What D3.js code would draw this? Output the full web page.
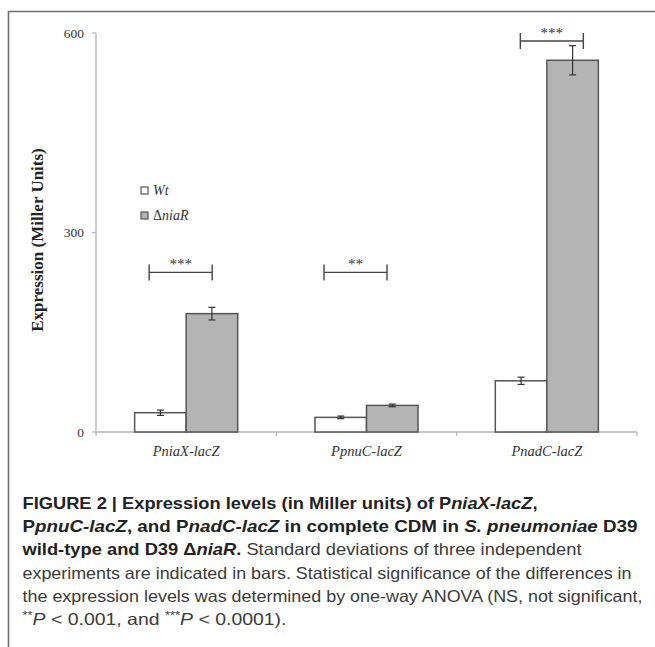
<!DOCTYPE html>
<html><head><meta charset="utf-8">
<script src="https://cdn.jsdelivr.net/npm/d3@7"></script>
<style>body{margin:0;background:#fff}svg{display:block}</style>
</head><body>
<svg id="c" width="655" height="647"></svg>
<script>
const categories = ["PniaX-lacZ", "PpnuC-lacZ", "PnadC-lacZ"];
const seriesNames = ["Wt", "ΔniaR"];
const wtValues = [29, 22, 77];
const wtErrors = [4, 2, 5.5];
const niaRValues = [178, 40, 559];
const niaRErrors = [9.5, 2, 22];
const yTicks = [0, 300, 600];
const sigLabels = ["***", "**", "***"];
const sigLevels = [240, 240, 588];
const sigShift = [-5.5, -11, 5];

const svg = d3.select("#c");
const y = d3.scaleLinear().domain([0, 600]).range([432, 33]);
const x = d3.scaleBand().domain(categories).range([96, 637]).padding(0);
const x1 = d3.scaleBand().domain(seriesNames).range([0, x.bandwidth()]).paddingInner(0).paddingOuter(0.75);

// frame
svg.append("path").attr("d", "M8.5,647V11.5H655").attr("fill", "none").attr("stroke", "#707070").attr("stroke-width", 1.6);

// axes
const axisCol = "#b5b5b5";
svg.append("line").attr("x1", 96).attr("x2", 96).attr("y1", y(600)).attr("y2", y(0)).attr("stroke", axisCol).attr("stroke-width", 1.4);
svg.append("line").attr("x1", 96).attr("x2", 637).attr("y1", y(0)).attr("y2", y(0)).attr("stroke", axisCol).attr("stroke-width", 1.4);
svg.selectAll(".yt").data(yTicks).enter().append("line")
  .attr("x1", 92).attr("x2", 96).attr("y1", d => y(d)).attr("y2", d => y(d)).attr("stroke", axisCol).attr("stroke-width", 1.2);
svg.selectAll(".ytl").data(yTicks).enter().append("text")
  .attr("x", 84).attr("y", d => y(d) + 4.5).attr("text-anchor", "end")
  .attr("font-family", "Liberation Serif, serif").attr("font-size", 13.5).attr("fill", "#333").text(d => d);
const xb = categories.map(c => x(c)).concat([x.range()[1]]);
svg.selectAll(".xt").data(xb).enter().append("line")
  .attr("x1", d => d).attr("x2", d => d).attr("y1", y(0)).attr("y2", y(0) + 4).attr("stroke", axisCol).attr("stroke-width", 1.2);
svg.selectAll(".xtl").data(categories).enter().append("text")
  .attr("x", d => x(d) + x.bandwidth() / 2).attr("y", 456).attr("text-anchor", "middle")
  .attr("font-family", "Liberation Serif, serif").attr("font-style", "italic").attr("font-size", 14.5).attr("fill", "#333").text(d => d);

svg.append("text").attr("transform", "translate(43,240) rotate(-90)").attr("text-anchor", "middle")
  .attr("font-family", "Liberation Serif, serif").attr("font-weight", "bold").attr("font-size", 17).attr("fill", "#222")
  .text("Expression (Miller Units)");

// bars
const rows = [];
categories.forEach((c, i) => {
  rows.push({c, s: seriesNames[0], v: wtValues[i], e: wtErrors[i], fill: "#ffffff"});
  rows.push({c, s: seriesNames[1], v: niaRValues[i], e: niaRErrors[i], fill: "#b4b4b4"});
});
svg.selectAll(".bar").data(rows).enter().append("rect")
  .attr("x", d => x(d.c) + x1(d.s)).attr("width", x1.bandwidth())
  .attr("y", d => y(d.v)).attr("height", d => y(0) - y(d.v))
  .attr("fill", d => d.fill).attr("stroke", "#555").attr("stroke-width", 1.5);
// error bars
const eb = svg.selectAll(".eb").data(rows).enter().append("g").attr("stroke", "#333").attr("stroke-width", 1.2);
eb.append("line").attr("x1", d => x(d.c) + x1(d.s) + x1.bandwidth() / 2).attr("x2", d => x(d.c) + x1(d.s) + x1.bandwidth() / 2)
  .attr("y1", d => y(d.v + d.e)).attr("y2", d => y(d.v - d.e));
[1, -1].forEach(sg => {
  eb.append("line").attr("x1", d => x(d.c) + x1(d.s) + x1.bandwidth() / 2 - 3.5).attr("x2", d => x(d.c) + x1(d.s) + x1.bandwidth() / 2 + 3.5)
    .attr("y1", d => y(d.v + sg * d.e)).attr("y2", d => y(d.v + sg * d.e));
});

// significance brackets
const sig = categories.map((c, i) => ({c, l: sigLabels[i], v: sigLevels[i], s: sigShift[i]}));
const sg = svg.selectAll(".sig").data(sig).enter().append("g");
sg.each(function(d) {
  const g = d3.select(this);
  const cx = x(d.c) + x.bandwidth() / 2 + d.s, yy = y(d.v), hw = 31.5;
  g.append("line").attr("x1", cx - hw).attr("x2", cx + hw).attr("y1", yy).attr("y2", yy).attr("stroke", "#444").attr("stroke-width", 1.4);
  [cx - hw, cx + hw].forEach(xx => g.append("line").attr("x1", xx).attr("x2", xx).attr("y1", yy - 8).attr("y2", yy + 8).attr("stroke", "#444").attr("stroke-width", 1.4));
  g.append("text").attr("x", cx).attr("y", yy - 3).attr("text-anchor", "middle")
    .attr("font-family", "Liberation Serif, serif").attr("font-size", 15).attr("fill", "#333").text(d.l);
});

// legend
const leg = svg.append("g");
seriesNames.forEach((s, i) => {
  const ly = 187 + i * 25;
  leg.append("rect").attr("x", 141).attr("y", ly).attr("width", 7).attr("height", 7)
    .attr("fill", i ? "#b4b4b4" : "#fff").attr("stroke", "#555").attr("stroke-width", 1.2);
  const t = leg.append("text").attr("x", 153).attr("y", ly + 8).attr("font-family", "Liberation Serif, serif").attr("font-size", 14).attr("fill", "#333");
  if (s[0] === "Δ") { t.append("tspan").text("Δ"); t.append("tspan").attr("font-style", "italic").text(s.slice(1)); }
  else t.append("tspan").attr("font-style", "italic").text(s);
});

// caption
const capLines = [
  [["FIGURE 2 | Expression levels (in Miller units) of P", "b"], ["niaX-lacZ", "bi"], [",", "b"]],
  [["P", "b"], ["pnuC-lacZ", "bi"], [", and P", "b"], ["nadC-lacZ", "bi"], [" in complete CDM in ", "b"], ["S. pneumoniae", "bi"], [" D39", "b"]],
  [["wild-type and D39 Δ", "b"], ["niaR", "bi"], [".", "b"], [" Standard deviations of three independent", "n"]],
  [["experiments are indicated in bars. Statistical significance of the differences in", "n"]],
  [["the expression levels was determined by one-way ANOVA (NS, not significant,", "n"]],
  [["**", "sup"], ["P", "i"], [" < 0.001, and ", "n"], ["***", "sup"], ["P", "i"], [" < 0.0001).", "n"]]
];
const capWidths = [515, 615, 559, 609, 620, 264];
capLines.forEach((ln, i) => {
  const t = svg.append("text").attr("x", 22.5).attr("y", 509 + i * 23.2)
    .attr("font-family", "Liberation Sans, Arial, sans-serif").attr("font-size", 16.5).attr("fill", "#222")
    .attr("textLength", capWidths[i]).attr("lengthAdjust", "spacingAndGlyphs");
  ln.forEach(([s, st]) => {
    const sp = t.append("tspan").text(s);
    if (st.includes("b")) sp.attr("font-weight", "bold");
    else sp.attr("fill", "#3a3a3a");
    if (st.includes("i")) sp.attr("font-style", "italic");
    if (st === "sup") { sp.attr("font-size", 11).attr("dy", -6); }
    if (st === "i" && i === 5) sp.attr("dy", 6);
  });
});
</script>
</body></html>
